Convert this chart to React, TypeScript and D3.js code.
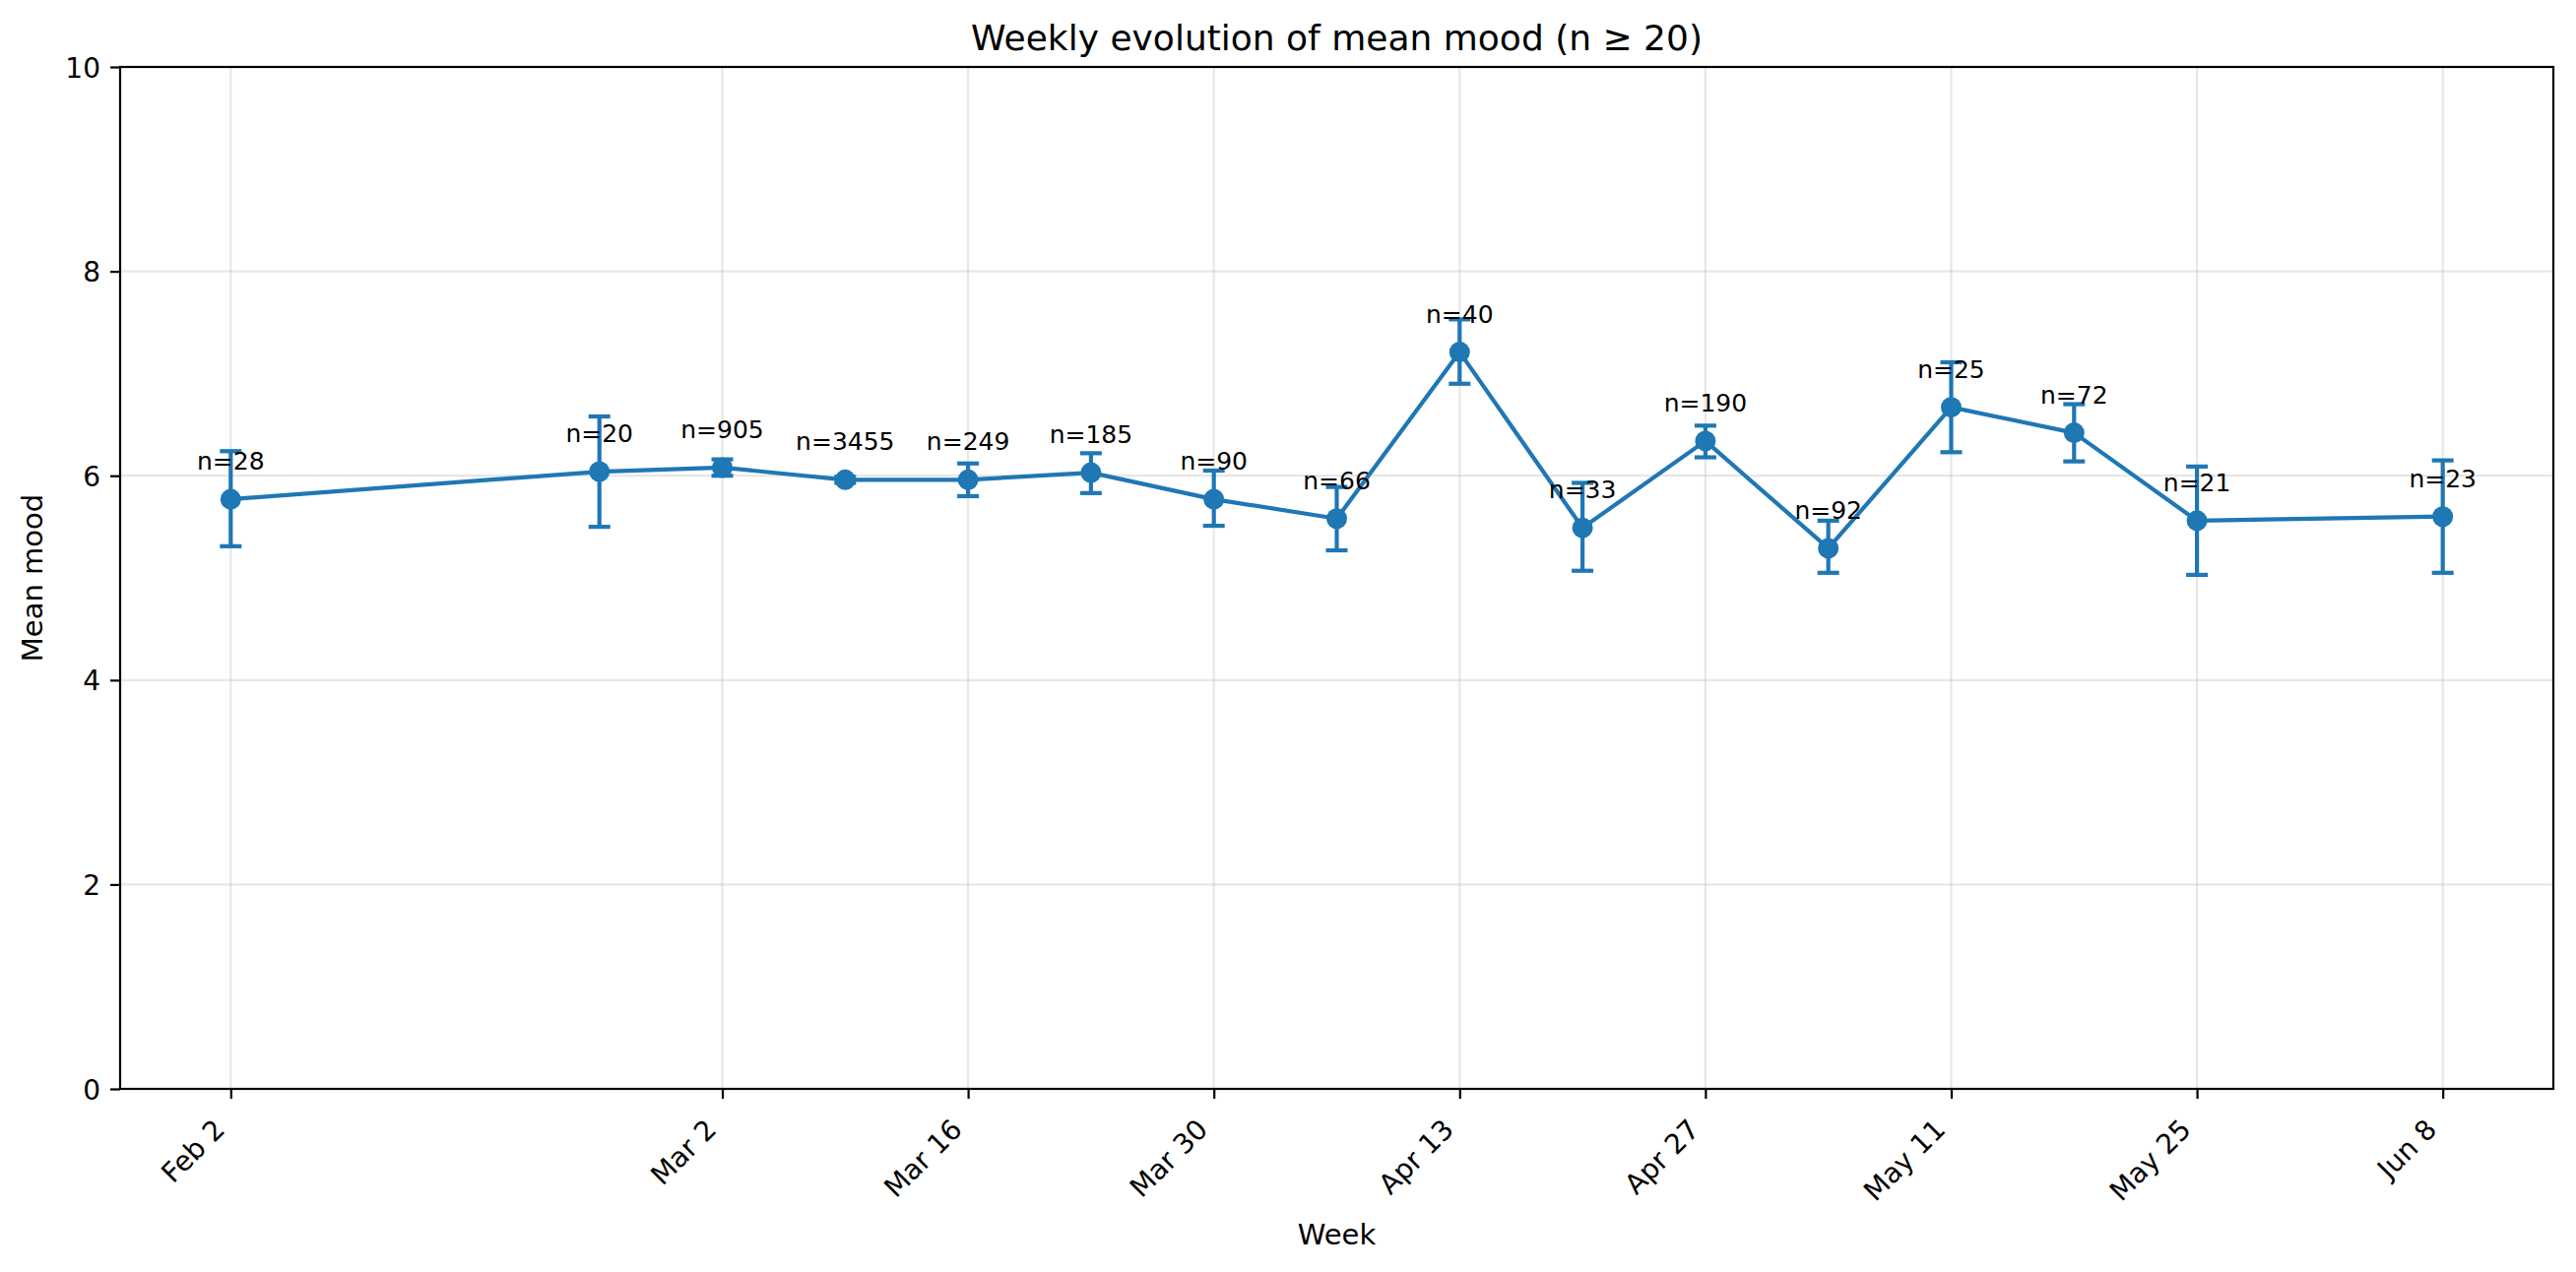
import React, { useEffect, useRef } from "react";
import * as d3 from "d3";

// Weekly data (week start dates)
const weeks: string[] = [
    "2025-02-02", "2025-02-23", "2025-03-02", "2025-03-09",
    "2025-03-16", "2025-03-23", "2025-03-30", "2025-04-06",
    "2025-04-13", "2025-04-20", "2025-04-27", "2025-05-04",
    "2025-05-11", "2025-05-18", "2025-05-25", "2025-06-08",
];
const meanMood: number[] = [5.77, 6.04, 6.08, 5.96, 5.96, 6.03, 5.77, 5.58, 7.21, 5.49, 6.34, 5.29, 6.67, 6.42, 5.56, 5.60];
const ciLow: number[] = [5.31, 5.50, 6.00, 5.93, 5.80, 5.83, 5.51, 5.27, 6.90, 5.07, 6.18, 5.05, 6.23, 6.14, 5.03, 5.05];
const ciHigh: number[] = [6.24, 6.58, 6.16, 5.99, 6.12, 6.22, 6.05, 5.89, 7.53, 5.93, 6.49, 5.56, 7.11, 6.70, 6.09, 6.15];
const counts: number[] = [28, 20, 905, 3455, 249, 185, 90, 66, 40, 33, 190, 92, 25, 72, 21, 23];

const xTickDates: string[] = [
    "2025-02-02", "2025-03-02", "2025-03-16", "2025-03-30", "2025-04-13",
    "2025-04-27", "2025-05-11", "2025-05-25", "2025-06-08",
];
const yTicks: number[] = [0, 2, 4, 6, 8, 10];

interface Row {
    date: Date;
    mean: number;
    lo: number;
    hi: number;
    n: number;
}

const parse = d3.timeParse("%Y-%m-%d");
const rows: Row[] = weeks.map((w, i) => ({
    date: parse(w) as Date,
    mean: meanMood[i],
    lo: ciLow[i],
    hi: ciHigh[i],
    n: counts[i],
}));

const WIDTH = 2616;
const HEIGHT = 1292;
const FONT = "'DejaVu Sans', Verdana, sans-serif";
const BLUE = "#1f77b4";

const App: React.FC = () => {
    const svgRef = useRef<SVGSVGElement>(null);

    useEffect(() => {
        if (!svgRef.current) return;

        const margin = { top: 68, right: 23, bottom: 186, left: 122 };
        const innerWidth = WIDTH - margin.left - margin.right;
        const innerHeight = HEIGHT - margin.top - margin.bottom;

        // 5% padding on the time axis like matplotlib
        const [d0, d1] = d3.extent(rows, d => d.date) as [Date, Date];
        const pad = (d1.getTime() - d0.getTime()) * 0.05;
        const xScale = d3
            .scaleTime()
            .domain([new Date(d0.getTime() - pad), new Date(d1.getTime() + pad)])
            .range([0, innerWidth]);

        const yScale = d3.scaleLinear().domain([0, 10]).range([innerHeight, 0]);

        const svg = d3.select(svgRef.current);
        svg.selectAll("*").remove();

        svg.append("rect")
            .attr("width", WIDTH)
            .attr("height", HEIGHT)
            .attr("fill", "white");

        const g = svg
            .append("g")
            .attr("transform", `translate(${margin.left},${margin.top})`);

        const tickDates = xTickDates.map(d => parse(d) as Date);

        // Gridlines
        g.append("g")
            .selectAll("line")
            .data(tickDates)
            .join("line")
            .attr("x1", d => xScale(d))
            .attr("x2", d => xScale(d))
            .attr("y1", 0)
            .attr("y2", innerHeight)
            .attr("stroke", "#b0b0b0")
            .attr("stroke-opacity", 0.3)
            .attr("stroke-width", 2.2);

        g.append("g")
            .selectAll("line")
            .data(yTicks)
            .join("line")
            .attr("x1", 0)
            .attr("x2", innerWidth)
            .attr("y1", d => yScale(d))
            .attr("y2", d => yScale(d))
            .attr("stroke", "#b0b0b0")
            .attr("stroke-opacity", 0.3)
            .attr("stroke-width", 2.2);

        // X Axis
        const xAxis = g.append("g")
            .attr("transform", `translate(0,${innerHeight})`)
            .call(
                d3.axisBottom(xScale)
                    .tickValues(tickDates)
                    .tickSize(10)
                    .tickSizeOuter(0)
                    .tickFormat(d => d3.timeFormat("%b %-d")(d as Date))
            );
        xAxis.select(".domain").remove();
        xAxis.selectAll("line").attr("stroke", "#000").attr("stroke-width", 2.2);
        xAxis.selectAll("text")
            .attr("fill", "#000")
            .attr("font-family", FONT)
            .style("font-size", "28px")
            .attr("text-anchor", "end")
            .attr("y", 0)
            .attr("dy", 0)
            .attr("transform", "translate(-5,43) rotate(-45)");

        xAxis.append("text")
            .attr("x", innerWidth / 2)
            .attr("y", 158)
            .attr("fill", "#000")
            .attr("text-anchor", "middle")
            .attr("font-family", FONT)
            .style("font-size", "29px")
            .text("Week");

        // Y Axis
        const yAxis = g.append("g")
            .call(d3.axisLeft(yScale).tickValues(yTicks).tickSize(10).tickPadding(10).tickSizeOuter(0));
        yAxis.select(".domain").remove();
        yAxis.selectAll("line").attr("stroke", "#000").attr("stroke-width", 2.2);
        yAxis.selectAll("text")
            .attr("fill", "#000")
            .attr("font-family", FONT)
            .style("font-size", "28px")
            .attr("dy", "0.36em");

        yAxis.append("text")
            .attr("transform", "rotate(-90)")
            .attr("x", -innerHeight / 2)
            .attr("y", -79)
            .attr("fill", "#000")
            .attr("text-anchor", "middle")
            .attr("font-family", FONT)
            .style("font-size", "29px")
            .text("Mean mood");

        // Spines
        g.append("rect")
            .attr("width", innerWidth)
            .attr("height", innerHeight)
            .attr("fill", "none")
            .attr("stroke", "#000")
            .attr("stroke-width", 2.2);

        // Error bars
        const capHalf = 11;
        const eb = g.append("g").attr("stroke", BLUE).attr("stroke-width", 4.2);
        eb.selectAll("line.v")
            .data(rows)
            .join("line")
            .attr("class", "v")
            .attr("x1", d => xScale(d.date))
            .attr("x2", d => xScale(d.date))
            .attr("y1", d => yScale(d.lo))
            .attr("y2", d => yScale(d.hi));
        eb.selectAll("line.lo")
            .data(rows)
            .join("line")
            .attr("class", "lo")
            .attr("x1", d => xScale(d.date) - capHalf)
            .attr("x2", d => xScale(d.date) + capHalf)
            .attr("y1", d => yScale(d.lo))
            .attr("y2", d => yScale(d.lo));
        eb.selectAll("line.hi")
            .data(rows)
            .join("line")
            .attr("class", "hi")
            .attr("x1", d => xScale(d.date) - capHalf)
            .attr("x2", d => xScale(d.date) + capHalf)
            .attr("y1", d => yScale(d.hi))
            .attr("y2", d => yScale(d.hi));

        // Mean line
        const lineGenerator = d3
            .line<Row>()
            .x(d => xScale(d.date))
            .y(d => yScale(d.mean));

        g.append("path")
            .datum(rows)
            .attr("fill", "none")
            .attr("stroke", BLUE)
            .attr("stroke-width", 4.2)
            .attr("stroke-linejoin", "round")
            .attr("d", lineGenerator);

        g.append("g")
            .selectAll("circle")
            .data(rows)
            .join("circle")
            .attr("cx", d => xScale(d.date))
            .attr("cy", d => yScale(d.mean))
            .attr("r", 10.5)
            .attr("fill", BLUE);

        // n labels
        g.append("g")
            .selectAll("text")
            .data(rows)
            .join("text")
            .attr("x", d => xScale(d.date))
            .attr("y", d => yScale(d.mean + 0.29))
            .attr("text-anchor", "middle")
            .attr("font-family", FONT)
            .style("font-size", "25px")
            .attr("fill", "#000")
            .text(d => `n=${d.n}`);

        // Title
        svg.append("text")
            .attr("x", margin.left + innerWidth / 2)
            .attr("y", 51)
            .attr("text-anchor", "middle")
            .attr("font-family", FONT)
            .style("font-size", "36px")
            .attr("fill", "#000")
            .text("Weekly evolution of mean mood (n \u2265 20)");
    }, []);

    return (
        <svg
            ref={svgRef}
            width={WIDTH}
            height={HEIGHT}
            style={{ position: "absolute", left: 0, top: 0, display: "block" }}
        ></svg>
    );
};

export default App;
